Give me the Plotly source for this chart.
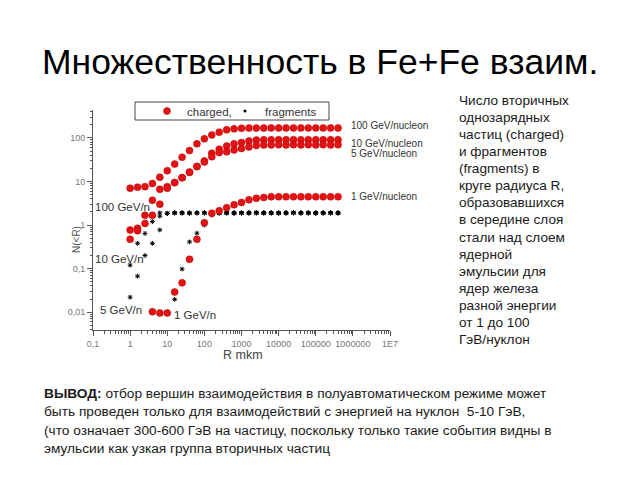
import plotly.graph_objects as go

# ---------------- data ----------------
R = [1, 1.585, 2.512, 3.981, 6.31, 10, 15.85, 25.12, 39.81, 63.1, 100, 158.5, 251.2,
     398.1, 631, 1000, 1585, 2512, 3981, 6310, 10000, 15850, 25120, 39810, 63100,
     100000, 158500, 251200, 398100]

charged_100 = [7.0, 7.4, 7.6, 9.0, 12.5, 17.7, 25, 36, 51, 73, 95, 117, 135, 153, 161, 167,
               168, 168, 168, 169, 169, 169, 169, 169, 169, 169, 169, 169, 169]
charged_10 = [0.77, 0.84, 1.67, 3.7, 6.6, 7.6, 9.4, 12.2, 16.3, 22, 29.5, 44.5, 55, 65, 73, 78,
              85, 89, 90, 90, 91, 90, 91, 90, 91, 90, 91, 90, 91]
charged_5 = [0.47, 0.74, 1.09, 1.67, 3.0, 7.0, 9.4, 12.2, 16.3, 22, 28, 37, 46, 48, 53, 57,
             62, 67, 69, 69, 70, 69, 70, 69, 70, 69, 70, 69, 70]
charged_1 = [None, None, None, 0.0102, 0.0096, 0.0096, 0.029, 0.047, 0.163, 0.47, 1.13, 1.86,
             2.13, 2.5, 2.9, 3.3, 3.8, 4.1, 4.3, 4.45, 4.45, 4.45, 4.45, 4.45, 4.45, 4.45,
             4.45, 4.45, 4.45]

frag_100 = [None, None, None, None, 1.9, 1.85, 1.9, 1.9, 1.85, 1.9, 1.9, 1.95, 1.9, 1.9, 1.85,
            1.9, 1.9, 1.95, 1.9, 1.9, 1.85, 1.9, 1.95, 1.9, 1.9, 1.85, 1.9, 1.9, 1.9]
frag_10 = [0.12, 0.38, 0.64, 1.2, 1.6, 1.85, 1.9, 1.9, 1.9, 1.9, 1.9, 1.9, 1.9, 1.9, 1.9,
           1.9, 1.9, 1.9, 1.9, 1.9, 1.9, 1.9, 1.9, 1.9, 1.9, 1.9, 1.9, 1.9, 1.9]
frag_5 = [0.022, 0.067, 0.2, 0.38, 0.77, 1.85, 1.9, 1.9, 1.9, 1.9, 1.9, 1.9, 1.9, 1.9, 1.9,
          1.9, 1.9, 1.9, 1.9, 1.9, 1.9, 1.9, 1.9, 1.9, 1.9, 1.9, 1.9, 1.9, 1.9]
frag_1 = [None, None, None, None, None, None, 0.0196, 0.0975, 0.41, 0.65, 1.0, 1.7, 1.9, 1.9,
          1.9, 1.9, 1.9, 1.9, 1.9, 1.9, 1.9, 1.9, 1.9, 1.9, 1.9, 1.9, 1.9, 1.9, 1.9]

x_tickvals = [0.1, 1, 10, 100, 1000, 10000, 100000, 1000000, 10000000]
x_ticktext = ["0,1", "1", "10", "100", "1000", "10000", "100000", "1000000", "1E7"]
y_tickvals = [0.01, 0.1, 1, 10, 100]
y_ticktext = ["0,01", "0,1", "1", "10", "100"]

title_text = "Множественность в Fe+Fe взаим."
right_lines = ["Число вторичных", "однозарядных", "частиц (charged)", "и фрагментов",
               "(fragments) в", "круге радиуса R,", "образовавшихся", "в середине слоя",
               "стали над слоем", "ядерной", "эмульсии для", "ядер железа",
               "разной энергии", "от 1 до 100", "ГэВ/нуклон"]
bottom_lines = ["<b>ВЫВОД:</b> отбор вершин взаимодействия в полуавтоматическом режиме может",
                "быть проведен только для взаимодействий с энергией на нуклон  5-10 ГэВ,",
                "(что означает 300-600 ГэВ на частицу, поскольку только такие события видны в",
                "эмульсии как узкая группа вторичных частиц"]

# ---------------- layout helpers ----------------
W, H = 640, 480
L, RGT, T, B = 93, 390, 110, 330


def px(xp):
    return (xp - L) / (RGT - L)


def py(yp):
    return (B - yp) / (B - T)


FONT = "Liberation Sans, Arial, sans-serif"
RED = "#e01414"

fig = go.Figure()

charged_sets = [charged_100, charged_10, charged_5, charged_1]
frag_sets = [frag_100, frag_10, frag_5, frag_1]

for i, ys in enumerate(frag_sets):
    fig.add_trace(go.Scatter(
        x=R, y=ys, mode="markers", name="fragments", legendgroup="f",
        showlegend=False,
        marker=dict(symbol="asterisk-open", size=4, color="black",
                    line=dict(color="black", width=1))))

for i, ys in enumerate(charged_sets):
    fig.add_trace(go.Scatter(
        x=R, y=ys, mode="markers", name="charged,", legendgroup="c",
        showlegend=(i == 0), legend="legend",
        marker=dict(symbol="circle", size=7, color=RED,
                    line=dict(color="#c00000", width=0.5))))

# legend-only fragment entry (black dot)
fig.add_trace(go.Scatter(
    x=[None], y=[None], mode="markers", name="fragments", legendgroup="f",
    showlegend=True, legend="legend2",
    marker=dict(symbol="circle", size=3, color="black")))

minor_x = [m * 10 ** e for e in range(-1, 7) for m in range(2, 10)]
minor_y = [m * 10 ** e for e in range(-3, 3) for m in range(2, 10)]

axis_common = dict(showline=True, linecolor="#555", linewidth=1, ticks="outside",
                   ticklen=5, tickcolor="#555", showgrid=False, zeroline=False,
                   tickfont=dict(family=FONT, size=9, color="#777"))

fig.update_xaxes(type="log", range=[-1, 7], tickmode="array", tickvals=x_tickvals,
                 ticktext=x_ticktext,
                 minor=dict(tickmode="array", tickvals=minor_x, ticks="outside",
                            ticklen=2.5, tickcolor="#555", showgrid=False),
                 **axis_common)
fig.update_yaxes(type="log", range=[-2.41, 2.64], tickmode="array", tickvals=y_tickvals,
                 ticktext=y_ticktext,
                 minor=dict(tickmode="array", tickvals=minor_y, ticks="outside",
                            ticklen=2.5, tickcolor="#555", showgrid=False),
                 **axis_common)

ann = []


def add_text(xp, yp, text, size, color, xanchor="left", angle=0):
    ann.append(dict(xref="paper", yref="paper", x=px(xp), y=py(yp), text=text,
                    showarrow=False, xanchor=xanchor, yanchor="middle",
                    textangle=angle, font=dict(family=FONT, size=size, color=color)))


add_text(320, 62, title_text, 35.5, "black", xanchor="center")
for i, line in enumerate(right_lines):
    add_text(457, 100 + i * 17.14, line, 13.6, "#1a1a1a")
for i, line in enumerate(bottom_lines):
    add_text(42, 393.5 + i * 18.3, line, 13.7, "#1a1a1a")

# energy labels
for txt, xp, yp in [("100 GeV/nucleon", 349, 125), ("10 GeV/nucleon", 349, 143),
                    ("5 GeV/nucleon", 349, 153), ("1 GeV/nucleon", 349, 196)]:
    add_text(xp, yp, txt, 10, "#333")
for txt, xp, yp in [("100 GeV/n", 93, 207), ("10 GeV/n", 93, 259), ("5 GeV/n", 98, 310),
                    ("1 GeV/n", 172, 315)]:
    add_text(xp, yp, txt, 11.5, "#333")

add_text(243, 355, "R mkm", 12.5, "#444", xanchor="center")
add_text(77, 240, "N(<R)", 10, "#555", xanchor="center", angle=-90)

legend_font = dict(family=FONT, size=11.5, color="#333")

fig.update_layout(
    width=W, height=H,
    margin=dict(l=L, r=W - RGT, t=T, b=H - B, pad=0),
    paper_bgcolor="white", plot_bgcolor="white",
    annotations=ann,
    shapes=[dict(type="rect", xref="paper", yref="paper", x0=px(135), x1=px(329),
                 y0=py(120), y1=py(102), line=dict(color="#444", width=1),
                 fillcolor="white", layer="below")],
    showlegend=True,
    legend=dict(orientation="h", x=px(147), y=py(111), xanchor="left", yanchor="middle",
                bgcolor="rgba(0,0,0,0)", borderwidth=0, font=legend_font),
    legend2=dict(orientation="h", x=px(225), y=py(111), xanchor="left", yanchor="middle",
                 bgcolor="rgba(0,0,0,0)", borderwidth=0, font=legend_font),
)

fig.write_html("out.html")
